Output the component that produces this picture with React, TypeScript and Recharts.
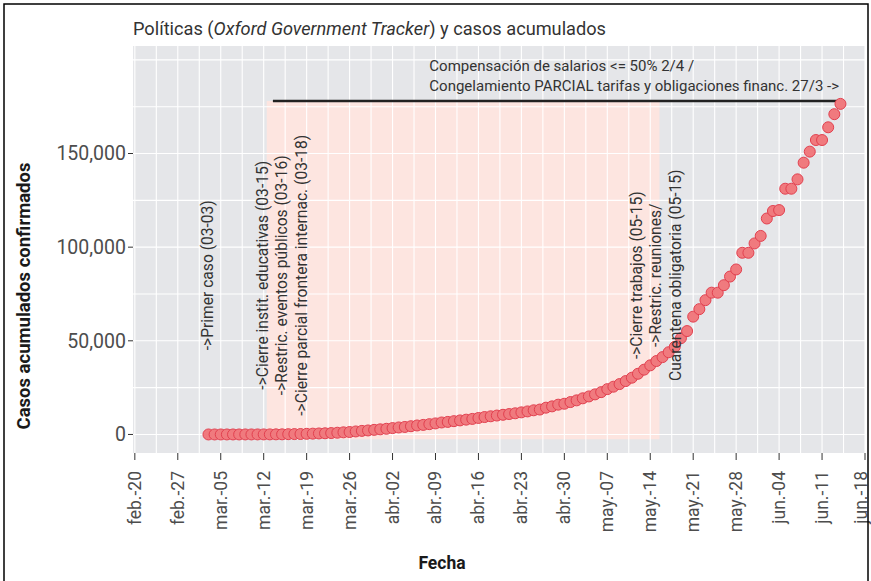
import React from 'react';
import {
  ComposedChart,
  Scatter,
  XAxis,
  YAxis,
  ReferenceArea,
  ReferenceLine,
  ReferenceDot,
} from 'recharts';

// ---------- data ----------
const firstDate = '2020-03-03';
// cumulative confirmed cases, one value per day from 2020-03-03 to 2020-06-14
const casesMarch = [
  1, 1, 4, 5, 7, 10, 13, 17, 23, 33, 43, 61,
  75, 155, 200, 240, 340, 430, 540, 630, 750, 920, 1140, 1310, 1610, 1910, 2140, 2450, 2740,
];
const casesApril = [
  3030, 3400, 3740, 4000, 4400, 4800, 5100, 5500, 5900, 6400, 6700, 7100, 7500, 7900, 8300,
  8800, 9300, 9700, 10100, 10500, 10900, 11300, 11800, 12300, 12900, 13300, 14300, 15000, 15900, 16400,
];
const casesMay = [
  17300, 18200, 19300, 20300, 21400, 22600, 24200, 25500, 26900, 28500, 30300, 32400, 34600, 36900,
  39200, 41300, 43900, 46800, 51400, 55200, 62900, 66900, 71700, 75700, 75700, 79700, 84300, 88100,
  97000, 97000, 102000,
];
const casesJune = [
  106000, 115300, 119300, 119800, 131200, 131200, 136200, 145100, 151000, 157200, 157200, 164000,
  171000, 176500,
];
const cases = [...casesMarch, ...casesApril, ...casesMay, ...casesJune];

const tickDates = [
  '2020-02-20', '2020-02-27', '2020-03-05', '2020-03-12', '2020-03-19', '2020-03-26',
  '2020-04-02', '2020-04-09', '2020-04-16', '2020-04-23', '2020-04-30', '2020-05-07',
  '2020-05-14', '2020-05-21', '2020-05-28', '2020-06-04', '2020-06-11', '2020-06-18',
];
const tickLabels = [
  'feb.-20', 'feb.-27', 'mar.-05', 'mar.-12', 'mar.-19', 'mar.-26', 'abr.-02', 'abr.-09',
  'abr.-16', 'abr.-23', 'abr.-30', 'may.-07', 'may.-14', 'may.-21', 'may.-28', 'jun.-04',
  'jun.-11', 'jun.-18',
];
const yTicks = [0, 50000, 100000, 150000];
const yGrid = [0, 25000, 50000, 75000, 100000, 125000, 150000, 175000, 200000];

// policy period (shaded, whole days) and the horizontal bar
const shadeStart = '2020-03-13';
const shadeEnd = '2020-05-15';
const barStart = '2020-03-14';
const barEnd = '2020-06-14';
const barLevel = 178000;
const shadeBottom = -2500;

// annotations (vertical text)
const annFirst = { date: '2020-03-03', level: 85000, lines: ['->Primer caso (03-03)'] };
const annMarch = {
  date: '2020-03-15',
  level: 85000,
  lines: [
    '->Cierre instit. educativas (03-15)',
    '->Restric. eventos públicos (03-16)',
    '->Cierre parcial frontera internac. (03-18)',
  ],
};
const annMay = {
  date: '2020-05-15',
  level: 85000,
  lines: ['->Cierre trabajos (05-15)', '->Restric. reuniones/', 'Cuarentena obligatoria (05-15)'],
};
const annTop = {
  date: '2020-04-08',
  level: 191500,
  lines: [
    'Compensación de salarios <= 50% 2/4 /',
    'Congelamiento PARCIAL tarifas y obligaciones financ. 27/3 ->',
  ],
};

// ---------- helpers ----------
const ORIGIN = Date.UTC(2020, 1, 20);
const dayOf = (s: string) => {
  const [y, m, d] = s.split('-').map(Number);
  return Math.round((Date.UTC(y, m - 1, d) - ORIGIN) / 86400000);
};
const startDay = dayOf(firstDate);
const data = cases.map((c, i) => ({ d: startDay + i, cases: c }));
const tickDays = tickDates.map(dayOf);
const tickMap: Record<number, string> = {};
tickDays.forEach((d, i) => (tickMap[d] = tickLabels[i]));
const xDomain: [number, number] = [-0.3, 119];
const yDomain: [number, number] = [-9900, 207400];
const xGrid: number[] = [];
for (let v = 0; v <= 119; v += 3.5) xGrid.push(v);

const FONT = 'Roboto, "Noto Sans", sans-serif';
const PANEL = '#E5E6E9';
const PINK = '#FDE5E0';

const XTick = (props: any) => {
  const { y, payload } = props;
  const x = Math.min(props.x, 861);
  const ty = y + 9;
  return (
    <text
      x={x}
      y={ty}
      transform={`rotate(-90, ${x}, ${ty})`}
      textAnchor="end"
      dominantBaseline="central"
      fill="#4D4D4D"
      fontSize={17.5}
      fontFamily={FONT}
    >
      {tickMap[payload.value]}
    </text>
  );
};

const VerticalLabel = (lines: string[]) => (props: any) => {
  const vb = props.viewBox || {};
  const cx = vb.x + (vb.width || 0) / 2;
  const cy = vb.y + (vb.height || 0) / 2;
  const lh = 19.5;
  return (
    <g>
      {lines.map((t, i) => {
        const x = cx + (i - (lines.length - 1) / 2) * lh;
        return (
          <text
            key={i}
            x={x}
            y={cy}
            transform={`rotate(-90, ${x}, ${cy})`}
            textAnchor="middle"
            dominantBaseline="central"
            fill="#333333"
            fontSize={15.6}
            fontFamily={FONT}
          >
            {t}
          </text>
        );
      })}
    </g>
  );
};

const HorizontalLabel = (lines: string[]) => (props: any) => {
  const vb = props.viewBox || {};
  const cx = vb.x + (vb.width || 0) / 2;
  const cy = vb.y + (vb.height || 0) / 2;
  const lh = 20;
  return (
    <g>
      {lines.map((t, i) => (
        <text
          key={i}
          x={cx}
          y={cy + (i - (lines.length - 1) / 2) * lh}
          textAnchor="start"
          dominantBaseline="central"
          fill="#333333"
          fontSize={15}
          fontFamily={FONT}
        >
          {t}
        </text>
      ))}
    </g>
  );
};

const Dot = (p: any) => (
  <circle cx={p.cx} cy={p.cy} r={5.5} fill="#F07A7E" stroke="#E2404F" strokeWidth={1} />
);

export default function App() {
  return (
    <div style={{ position: 'absolute', left: 0, top: 0, width: 871, height: 581, background: '#fff' }}>
      <ComposedChart
        width={871}
        height={581}
        data={data}
        margin={{ top: 46, right: 6, bottom: 0, left: 0 }}
      >
        <XAxis
          type="number"
          dataKey="d"
          domain={xDomain}
          ticks={tickDays}
          tick={<XTick />}
          tickSize={7}
          tickLine={{ stroke: '#333333' }}
          axisLine={false}
          height={128}
          allowDataOverflow
          interval={0}
        />
        <YAxis
          type="number"
          dataKey="cases"
          domain={yDomain}
          ticks={yTicks}
          tickFormatter={(v: number) => v.toLocaleString('en-US')}
          tick={{ fill: '#4D4D4D', fontSize: 19.5, fontFamily: FONT }}
          tickSize={5}
          tickLine={{ stroke: '#333333' }}
          axisLine={false}
          width={133}
          allowDataOverflow
          interval={0}
        />
        <ReferenceArea x1={xDomain[0]} x2={xDomain[1]} y1={yDomain[0]} y2={yDomain[1]} fill={PANEL} fillOpacity={1} stroke="none" />
        <ReferenceArea
          x1={dayOf(shadeStart) - 0.5}
          x2={dayOf(shadeEnd) + 0.5}
          y1={shadeBottom}
          y2={barLevel}
          fill={PINK}
          fillOpacity={1}
          stroke="none"
        />
        {xGrid.map((v) => (
          <ReferenceLine key={'vx' + v} x={v} stroke="#FFFFFF" strokeWidth={1.1} />
        ))}
        {yGrid.map((v) => (
          <ReferenceLine key={'hy' + v} y={v} stroke="#FFFFFF" strokeWidth={1.1} />
        ))}
        <ReferenceLine
          segment={[
            { x: dayOf(barStart) - 0.5, y: barLevel },
            { x: dayOf(barEnd), y: barLevel },
          ]}
          stroke="#222222"
          strokeWidth={2.5}
        />
        <Scatter data={data} dataKey="cases" shape={<Dot />} isAnimationActive={false} />
        {[annFirst, annMarch, annMay].map((a, i) => (
          <ReferenceDot
            key={'ann' + i}
            x={dayOf(a.date)}
            y={a.level}
            r={1}
            fill="none"
            stroke="none"
            label={VerticalLabel(a.lines)}
          />
        ))}
        <ReferenceDot
          x={dayOf(annTop.date)}
          y={annTop.level}
          r={1}
          fill="none"
          stroke="none"
          label={HorizontalLabel(annTop.lines)}
        />
      </ComposedChart>
      <svg
        width={871}
        height={581}
        style={{ position: 'absolute', left: 0, top: 0, pointerEvents: 'none' }}
      >
        <rect x={4} y={4} width={864} height={590} fill="none" stroke="#000" strokeWidth={1.5} />
        <text x={133} y={35} fontFamily={FONT} fontSize={18.2} fill="#333333">
          Políticas (<tspan fontStyle="italic">Oxford Government Tracker</tspan>) y casos acumulados
        </text>
        <text
          x={24}
          y={296}
          transform="rotate(-90, 24, 296)"
          textAnchor="middle"
          dominantBaseline="central"
          fontFamily={FONT}
          fontWeight="bold"
          fontSize={18.5}
          fill="#1A1A1A"
        >
          Casos acumulados confirmados
        </text>
        <text
          x={442}
          y={563}
          textAnchor="middle"
          dominantBaseline="central"
          fontFamily={FONT}
          fontWeight="bold"
          fontSize={17.5}
          fill="#1A1A1A"
        >
          Fecha
        </text>
      </svg>
    </div>
  );
}
